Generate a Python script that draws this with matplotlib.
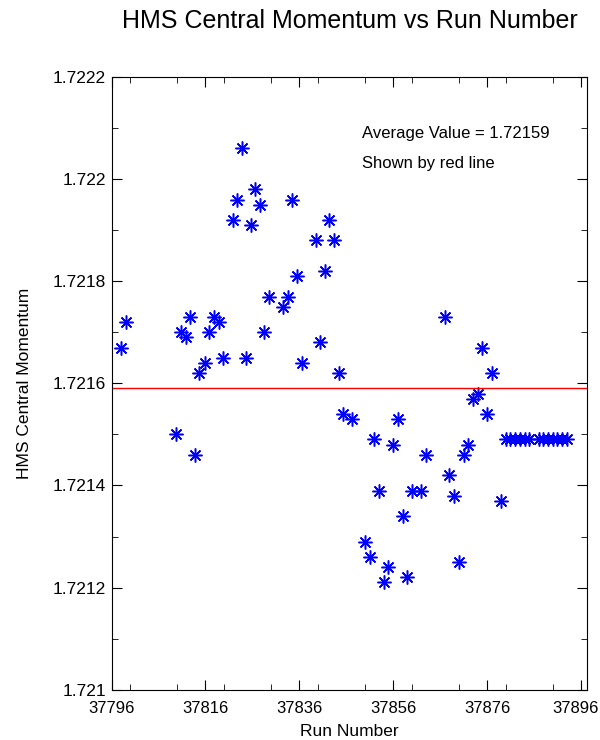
import numpy as np
import matplotlib
matplotlib.use("Agg")
import matplotlib.pyplot as plt
from matplotlib.ticker import MultipleLocator
from matplotlib.transforms import ScaledTranslation

plt.rcParams['font.family'] = ['Liberation Sans', 'DejaVu Sans']

# run numbers and HMS central momentum
runs = [37798.0, 37799.0, 37809.8, 37810.8, 37811.9, 37812.8, 37813.8, 37814.7,
        37815.8, 37816.8, 37817.8, 37818.8, 37819.8, 37821.8, 37822.7, 37823.8,
        37824.6, 37825.7, 37826.6, 37827.7, 37828.4, 37829.6, 37832.6, 37833.5,
        37834.5, 37835.6, 37836.6, 37839.5, 37840.5, 37841.5, 37842.4, 37843.4,
        37844.4, 37845.4, 37847.3,
        37850, 37851, 37852, 37853, 37854, 37855, 37856, 37857, 37858, 37859, 37860,
        37862, 37863,
        37867, 37868, 37869, 37870, 37871, 37872, 37873, 37874, 37875, 37876, 37877,
        37879,
        37880, 37881, 37882, 37883, 37884, 37885,
        37887, 37888, 37889, 37890, 37891, 37892, 37893]
momentum = [1.72167, 1.72172, 1.72150, 1.72170, 1.72169, 1.72173, 1.72146, 1.72162,
            1.72164, 1.72170, 1.72173, 1.72172, 1.72165, 1.72192, 1.72196, 1.72206,
            1.72165, 1.72191, 1.72198, 1.72195, 1.72170, 1.72177, 1.72175, 1.72177,
            1.72196, 1.72181, 1.72164, 1.72188, 1.72168, 1.72182, 1.72192, 1.72188,
            1.72162, 1.72154, 1.72153,
            1.72129, 1.72126, 1.72149, 1.72139, 1.72121, 1.72124, 1.72148, 1.72153,
            1.72134, 1.72122, 1.72139,
            1.72139, 1.72146,
            1.72173, 1.72142, 1.72138, 1.72125, 1.72146, 1.72148, 1.72157, 1.72158,
            1.72167, 1.72154, 1.72162,
            1.72137,
            1.72149, 1.72149, 1.72149, 1.72149, 1.72149, 1.72149,
            1.72149, 1.72149, 1.72149, 1.72149, 1.72149, 1.72149, 1.72149]
average = 1.72159

fig = plt.figure(figsize=(6, 7.4), dpi=100)
ax = fig.add_axes([0.186, 0.068, 0.793, 0.828])

ax.plot(runs, momentum, linestyle='none', marker=(8, 2, 0), markersize=10,
        markeredgewidth=1.1, color='blue')
ax.axhline(average, color='red', linewidth=1)

ax.set_xlim(37796, 37897.4)
ax.set_ylim(1.721, 1.7222)
ax.set_xticks(np.arange(37796, 37897, 20))
ax.xaxis.set_minor_locator(MultipleLocator(10))
ax.set_yticks([1.721, 1.7212, 1.7214, 1.7216, 1.7218, 1.722, 1.7222])
ax.set_yticklabels(['1.721', '1.7212', '1.7214', '1.7216', '1.7218', '1.722', '1.7222'])
ax.yaxis.set_minor_locator(MultipleLocator(0.0001))
ax.tick_params(which='both', direction='in', top=True, right=True, labelsize=12.5)
ax.tick_params(which='major', length=7)
ax.tick_params(which='minor', length=4)
ax.tick_params(axis='x', pad=8, labelsize=12)
ax.tick_params(axis='y', pad=4)

# last run-number label sits right at the figure edge, nudge it in a bit
last = ax.get_xticklabels()[-1]
last.set_transform(last.get_transform() + ScaledTranslation(-5 / 100, 0, fig.dpi_scale_trans))

ax.set_title('HMS Central Momentum vs Run Number', fontsize=18, pad=35)
ax.set_xlabel('Run Number', fontsize=12.5, labelpad=6)
ax.set_ylabel('HMS Central Momentum', fontsize=12.5, labelpad=15)

ax.text(0.526, 0.907, 'Average Value = 1.72159', transform=ax.transAxes,
        fontsize=12, va='center')
ax.text(0.526, 0.858, 'Shown by red line', transform=ax.transAxes,
        fontsize=12, va='center')

fig.savefig('out.png', dpi=100)
